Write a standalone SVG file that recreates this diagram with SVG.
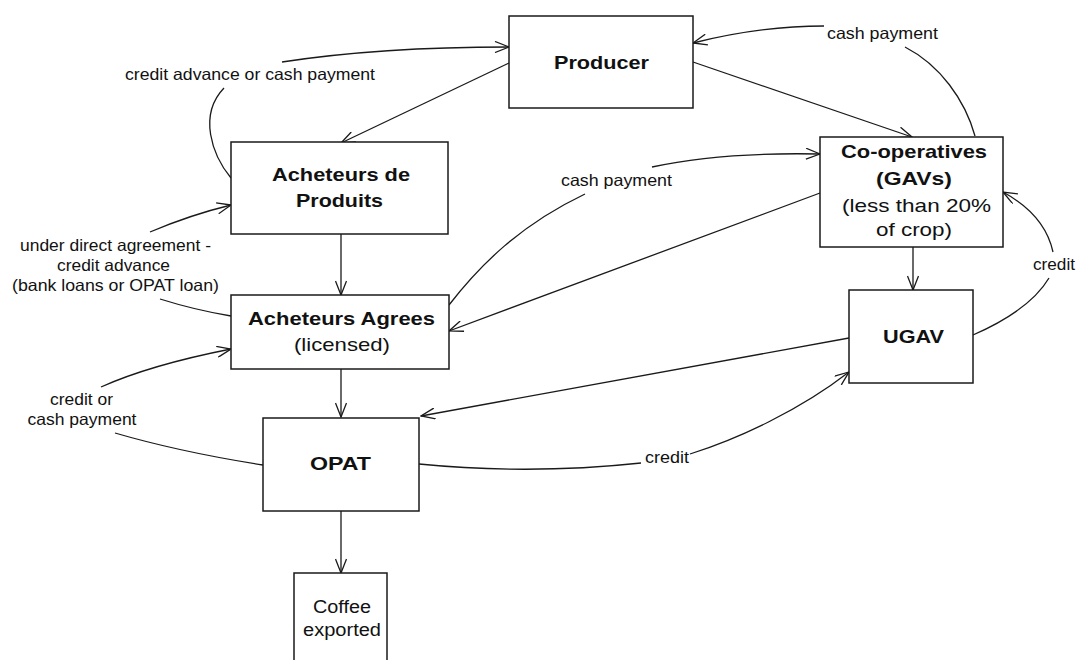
<svg xmlns="http://www.w3.org/2000/svg" width="1076" height="660" viewBox="0 0 1076 660">
  <style>
    .box { fill: #fff; stroke: #1a1a1a; stroke-width: 1.5; }
    .t { font-family: "Liberation Sans", Arial, sans-serif; fill: #111; text-anchor: middle; }
    .b { font-weight: bold; font-size: 19px; }
    .r { font-size: 19px; }
    .c { font-size: 17.5px; }
    .lbl { font-family: "Liberation Sans", Arial, sans-serif; fill: #111; font-size: 16.5px; text-anchor: middle; }
    .e { fill: none; stroke: #1a1a1a; stroke-width: 1.3; }
    .a { marker-end: url(#arr); }
  </style>
  <defs>
    <marker id="arr" markerUnits="userSpaceOnUse" viewBox="0 0 16 12" refX="15" refY="6" markerWidth="16" markerHeight="12" orient="auto">
      <path d="M1,0.5 L15,6 L1,11.5" fill="none" stroke="#1a1a1a" stroke-width="1.3"/>
    </marker>
  </defs>
  <rect width="1076" height="660" fill="#fff"/>

  <g id="connectors">
    <path class="e a" d="M509,63 L341,143"/>
    <path class="e" d="M231,178 C212,155 198,115 224,88"/>
    <path class="e a" d="M282,62 Q380,47 509,47"/>
    <path class="e a" d="M693,62 L912,137"/>
    <path class="e" d="M975,136 C965,100 940,65 905,47"/>
    <path class="e a" d="M824,26 Q760,26 693,43"/>
    <path class="e" d="M449,305 C480,265 520,225 585,194"/>
    <path class="e a" d="M652,167 Q720,152 820,154"/>
    <path class="e a" d="M820,193 L449,331"/>
    <path class="e a" d="M913,247 L913,290"/>
    <path class="e" d="M973,335 Q1030,310 1049,278"/>
    <path class="e a" d="M1053,252 Q1045,215 1003,192"/>
    <path class="e a" d="M849,338 L421,416"/>
    <path class="e" d="M419,464 Q530,475 641,463"/>
    <path class="e a" d="M690,454 C740,438 800,410 849,372"/>
    <path class="e a" d="M341,234 L341,295"/>
    <path class="e a" d="M341,369 L341,417"/>
    <path class="e a" d="M341,511 L341,573"/>
    <path class="e a" d="M150,232 Q190,215 231,205"/>
    <path class="e" d="M160,299 Q195,310 231,316"/>
    <path class="e a" d="M101,387 Q150,365 231,349"/>
    <path class="e" d="M115,433 Q180,452 263,465"/>

    <text class="lbl" x="250" y="80" textLength="250" lengthAdjust="spacingAndGlyphs">credit advance or cash payment</text>
    <text class="lbl" x="882.5" y="39" textLength="111" lengthAdjust="spacingAndGlyphs">cash payment</text>
    <text class="lbl" x="616.5" y="186" textLength="111" lengthAdjust="spacingAndGlyphs">cash payment</text>
    <text class="lbl" x="1054" y="270" textLength="42" lengthAdjust="spacingAndGlyphs">credit</text>
    <text class="lbl" x="115.5" y="251" textLength="191" lengthAdjust="spacingAndGlyphs">under direct agreement -</text>
    <text class="lbl" x="113.5" y="271" textLength="113" lengthAdjust="spacingAndGlyphs">credit advance</text>
    <text class="lbl" x="115.5" y="291" textLength="207" lengthAdjust="spacingAndGlyphs">(bank loans or OPAT loan)</text>
    <text class="lbl" x="81.5" y="405" textLength="63" lengthAdjust="spacingAndGlyphs">credit or</text>
    <text class="lbl" x="82" y="425" textLength="109" lengthAdjust="spacingAndGlyphs">cash payment</text>
    <text class="lbl" x="667" y="463" textLength="44" lengthAdjust="spacingAndGlyphs">credit</text>
  </g>

  <g id="producer">
    <rect class="box" x="509" y="16" width="184" height="92"/>
    <text class="t b" x="601.5" y="69" textLength="95" lengthAdjust="spacingAndGlyphs">Producer</text>
  </g>
  <g id="acheteurs-produits">
    <rect class="box" x="231" y="142" width="217" height="92"/>
    <text class="t b" x="341" y="181" textLength="138" lengthAdjust="spacingAndGlyphs">Acheteurs de</text>
    <text class="t b" x="339.5" y="207" textLength="87" lengthAdjust="spacingAndGlyphs">Produits</text>
  </g>
  <g id="acheteurs-agrees">
    <rect class="box" x="231" y="295" width="218" height="74"/>
    <text class="t b" x="341.5" y="325" textLength="187" lengthAdjust="spacingAndGlyphs">Acheteurs Agrees</text>
    <text class="t r" x="342" y="351" textLength="96" lengthAdjust="spacingAndGlyphs">(licensed)</text>
  </g>
  <g id="opat">
    <rect class="box" x="263" y="418" width="156" height="93"/>
    <text class="t b" x="340.5" y="470" textLength="61" lengthAdjust="spacingAndGlyphs">OPAT</text>
  </g>
  <g id="coffee-exported">
    <rect class="box" x="294" y="573" width="93" height="92"/>
    <text class="t c" x="342" y="613" textLength="58" lengthAdjust="spacingAndGlyphs">Coffee</text>
    <text class="t c" x="342" y="636" textLength="78" lengthAdjust="spacingAndGlyphs">exported</text>
  </g>
  <g id="cooperatives">
    <rect class="box" x="820" y="137" width="183" height="110"/>
    <text class="t b" x="914" y="158" textLength="146" lengthAdjust="spacingAndGlyphs">Co-operatives</text>
    <text class="t b" x="914" y="185" textLength="76" lengthAdjust="spacingAndGlyphs">(GAVs)</text>
    <text class="t r" x="916.5" y="212" textLength="149" lengthAdjust="spacingAndGlyphs">(less than 20%</text>
    <text class="t r" x="914" y="236" textLength="76" lengthAdjust="spacingAndGlyphs">of crop)</text>
  </g>
  <g id="ugav">
    <rect class="box" x="849" y="290" width="124" height="93"/>
    <text class="t b" x="913.5" y="343" textLength="61" lengthAdjust="spacingAndGlyphs">UGAV</text>
  </g>
</svg>
